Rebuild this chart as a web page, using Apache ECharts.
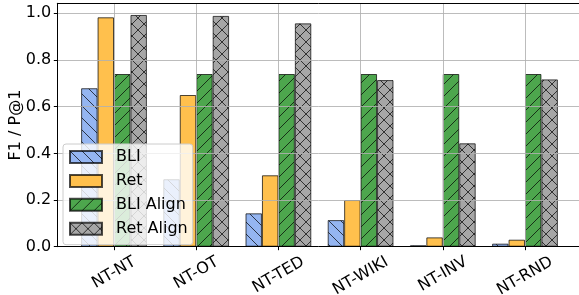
<!DOCTYPE html>
<html>
<head>
<meta charset="utf-8">
<script src="https://cdn.jsdelivr.net/npm/echarts@6/dist/echarts.min.js"></script>
<style>html,body{margin:0;padding:0;background:#fff;}#c{width:579px;height:295px;}</style>
</head>
<body>
<div id="c"></div>
<script>
const categories = ['NT-NT', 'NT-OT', 'NT-TED', 'NT-WIKI', 'NT-INV', 'NT-RND'];
const seriesNames = ['BLI', 'Ret', 'BLI Align', 'Ret Align'];
const bli = [0.679, 0.289, 0.143, 0.114, 0.006, 0.013];
const ret = [0.983, 0.650, 0.306, 0.200, 0.040, 0.030];
const bliAlign = [0.740, 0.740, 0.740, 0.740, 0.740, 0.740];
const retAlign = [0.993, 0.989, 0.957, 0.714, 0.443, 0.717];
const yTicks = [0.0, 0.2, 0.4, 0.6, 0.8, 1.0];

const FONT = 'DejaVu Sans';
const FS = 16;
function hatch(bg, type) {
  const s = 12;
  const c = document.createElement('canvas');
  c.width = s; c.height = s;
  const g = c.getContext('2d');
  g.fillStyle = bg; g.fillRect(0, 0, s, s);
  g.strokeStyle = 'rgba(0,0,0,0.7)'; g.lineWidth = 1;
  for (const k of [-s, 0, s]) {
    if (type.indexOf('/') >= 0) { g.beginPath(); g.moveTo(k, s); g.lineTo(k + s, 0); g.stroke(); }
    if (type.indexOf('\\') >= 0) { g.beginPath(); g.moveTo(k, 0); g.lineTo(k + s, s); g.stroke(); }
  }
  return { image: c, repeat: 'repeat' };
}
const fills = [
  hatch('#94b5f1', '\\'),
  '#ffc04d',
  hatch('#4da64d', '/'),
  hatch('#a6a6a6', '/\\')
];
const values = [bli, ret, bliAlign, retAlign];
const idx = categories.map((_, i) => i);

const mctx = document.createElement('canvas').getContext('2d');
mctx.font = FS + 'px ' + FONT;
function textW(t) { return mctx.measureText(t).width; }

const chart = echarts.init(document.getElementById('c'), null, { renderer: 'canvas' });
const barSeries = seriesNames.map((name, s) => ({
  name: name, type: 'bar',
  barWidth: 16.45, barGap: '0%',
  itemStyle: { color: fills[s], borderColor: 'rgba(0,0,0,0.7)', borderWidth: 1 },
  data: idx.map(i => [i, values[s][i]])
}));
const labelSeries = {
  name: 'xlabels', type: 'custom', silent: true, clip: false, z: 5,
  data: idx.map(i => [i, 0]),
  renderItem: function (params, api) {
    const i = api.value(0);
    const p = api.coord([i, 0]);
    const t = categories[i];
    const w = textW(t);
    return {
      type: 'text', x: p[0], y: p[1] + 7 + (0.5 * w + 14) / 2,
      rotation: Math.PI / 6,
      style: { text: t, font: FS + 'px ' + FONT, fill: '#000', align: 'center', verticalAlign: 'middle' }
    };
  }
};
chart.setOption({
  animation: false,
  textStyle: { fontFamily: FONT },
  grid: { left: 57.3, width: 524.4, top: 3.3, bottom: 48.3, show: false, outerBoundsMode: 'none', containLabel: false },
  legend: {
    left: 63, top: 144, orient: 'vertical', selectedMode: false,
    icon: 'rect',
    itemWidth: 32, itemHeight: 12, itemGap: 5.9,
    padding: [4, 5, 7, 6],
    backgroundColor: 'rgba(255,255,255,0.8)', borderColor: '#cccccc', borderWidth: 1, borderRadius: 3,
    textStyle: { fontFamily: FONT, fontSize: FS, color: '#000', lineHeight: 18, padding: [0, 0, 0, 9] },
    data: seriesNames
  },
  xAxis: [{
    type: 'value', min: -0.69, max: 5.69, z: 3, position: 'bottom',
    axisLine: { show: true, onZero: false, lineStyle: { color: '#000', width: 1 } },
    axisTick: { show: true, inside: false, length: 3.5, customValues: idx, lineStyle: { color: '#000' } },
    axisLabel: { show: false, customValues: idx },
    splitLine: { show: true, lineStyle: { color: '#b0b0b0', width: 1, opacity: 0.85 } }
  }, {
    type: 'value', min: -0.69, max: 5.69, z: 3, position: 'top',
    axisLine: { show: true, onZero: false, lineStyle: { color: '#000', width: 1 } },
    axisTick: { show: false }, axisLabel: { show: false }, splitLine: { show: false }
  }],
  yAxis: {
    type: 'value', min: 0, max: 1.043, interval: 0.2, z: 3,
    name: 'F1 / P@1', nameLocation: 'middle', nameRotate: 90, nameGap: 33, nameMoveOverlap: false,
    nameTextStyle: { fontFamily: FONT, fontSize: FS, color: '#000' },
    axisLine: { show: true, onZero: false, lineStyle: { color: '#000', width: 1 } },
    axisTick: { show: true, length: 3.5, lineStyle: { color: '#000' } },
    axisLabel: { showMaxLabel: false, formatter: v => v.toFixed(1), margin: 6, fontFamily: FONT, fontSize: FS, color: '#000' },
    splitLine: { show: true, lineStyle: { color: '#b0b0b0', width: 1, opacity: 0.85 } }
  },
  series: barSeries.concat([labelSeries])
});
</script>
</body>
</html>
